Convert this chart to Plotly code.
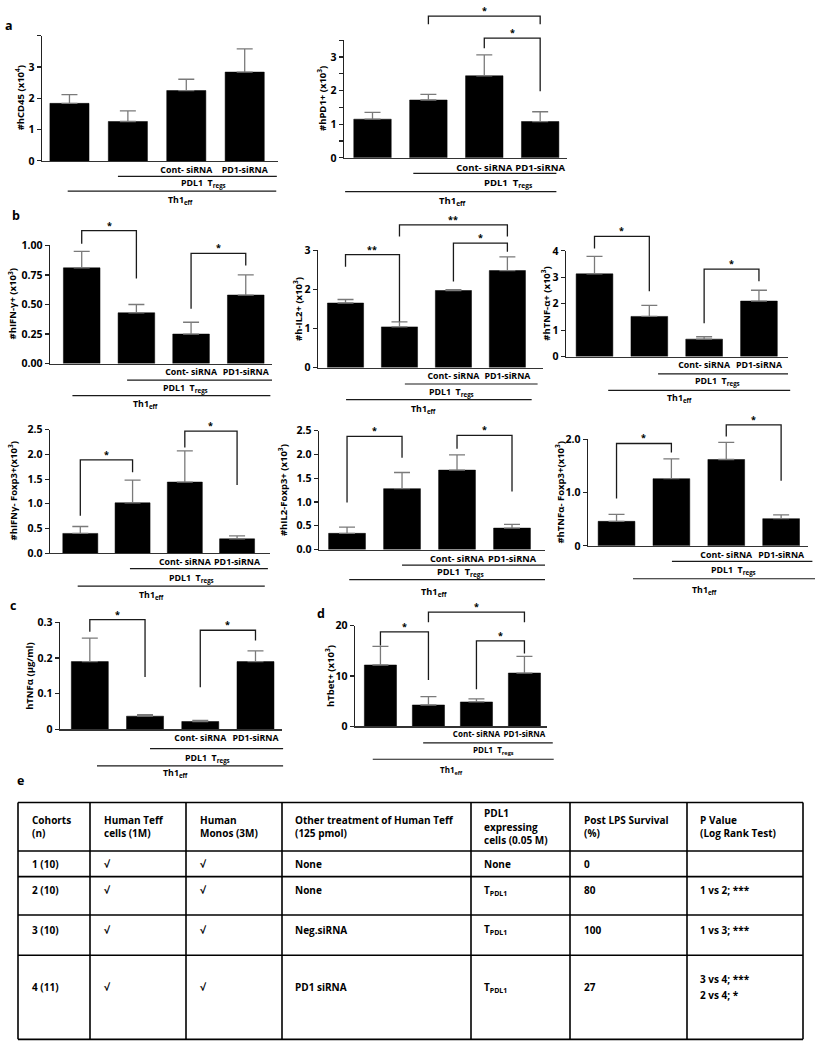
import plotly.graph_objects as go

W, H = 815, 1050
HN = 1133.0  # vertical extent of the layout measurements below
FONT = "Open Sans"

# ---------------- data ----------------
cats = ["Th1eff", "Th1eff + PDL1 Tregs", "Th1eff + PDL1 Tregs Cont-siRNA", "Th1eff + PDL1 Tregs PD1-siRNA"]
bar_labels = ["Cont- siRNA", "PD1-siRNA"]   # shown under the last two bars

hcd45 = [1.84, 1.26, 2.25, 2.84]
hcd45_err = [0.28, 0.34, 0.36, 0.74]
hpd1 = [1.15, 1.72, 2.44, 1.08]
hpd1_err = [0.20, 0.17, 0.62, 0.29]
hifng = [0.81, 0.43, 0.25, 0.58]
hifng_err = [0.14, 0.07, 0.10, 0.17]
hil2 = [1.65, 1.04, 1.97, 2.48]
hil2_err = [0.09, 0.13, 0.02, 0.35]
htnfa = [3.13, 1.52, 0.66, 2.10]
htnfa_err = [0.66, 0.42, 0.09, 0.41]
hifng_foxp3 = [0.40, 1.02, 1.44, 0.29]
hifng_foxp3_err = [0.14, 0.46, 0.63, 0.06]
hil2_foxp3 = [0.34, 1.28, 1.67, 0.45]
hil2_foxp3_err = [0.13, 0.34, 0.32, 0.08]
htnfa_foxp3 = [0.46, 1.26, 1.62, 0.51]
htnfa_foxp3_err = [0.13, 0.37, 0.32, 0.07]
htnfa_conc = [0.19, 0.037, 0.022, 0.19]
htnfa_conc_err = [0.066, 0.004, 0.003, 0.03]
htbet = [12.2, 4.25, 4.85, 10.6]
htbet_err = [3.7, 1.65, 0.6, 3.3]

# table e
tbl_header = [["Cohorts", "(n)"], ["Human Teff", "cells (1M)"], ["Human", "Monos (3M)"],
              ["Other treatment of Human Teff", "(125 pmol)"], ["PDL1", "expressing", "cells (0.05 M)"],
              ["Post LPS Survival", "(%)"], ["P Value", "(Log Rank Test)"]]
cohorts = ["1 (10)", "2 (10)", "3 (10)", "4 (11)"]
teff_cells = ["√", "√", "√", "√"]
monos = ["√", "√", "√", "√"]
other_treatment = ["None", "None", "Neg.siRNA", "PD1 siRNA"]
pdl1_cells = ["None", "T<sub>PDL1</sub>", "T<sub>PDL1</sub>", "T<sub>PDL1</sub>"]
survival = ["0", "80", "100", "27"]
p_values = [[], ["1 vs 2; ***"], ["1 vs 3; ***"], ["3 vs 4; ***", "2 vs 4; *"]]

# ---------------- panel geometry (pixels, vertical in HN units) ----------------
panels = [
    dict(y=hcd45, e=hcd45_err, xl=42, xr=278, y0=168.3, yt=31.5, ymax=4, xrange=[-0.47, 3.57],
         tv=[0, 1, 2, 3], tt=["0", "1", "2", "3"], mv=[4], title="#hCD45 (x10<sup>4</sup>)", tx=20, lf=8.8,
         br=[], l1=(0.83, 3.55, 17), l2=(-0.03, 3.54, 33), pdl=(2.29, 25), th1=(1.91, 43)),
    dict(y=hpd1, e=hpd1_err, xl=344, xr=567, y0=165, yt=36.2, ymax=3.5, xrange=[-0.51, 3.48],
         tv=[0, 1, 2, 3], tt=["0", "1", "2", "3"], mv=[0.5, 1.5, 2.5, 3.5],
         title="#hPD1+ (x10<sup>3</sup>)", tx=322, lf=9.5,
         br=[(1, 3, 4.21, 3.97, 3.97, "*"), (2, 3, 3.56, 3.26, 1.98, "*")],
         l1=(0.73, 3.29, 17), l2=(-0.49, 3.29, 37), pdl=(2.43, 27), th1=(1.44, 47)),
    dict(y=hifng, e=hifng_err, xl=50, xr=272, y0=390, yt=260.7, ymax=1.0, xrange=[-0.58, 3.48],
         tv=[0, 0.25, 0.5, 0.75, 1.0], tt=["0.00", "0.25", "0.50", "0.75", "1.00"], mv=[],
         title="#hIFN-γ+ (x10<sup>3</sup>)", tx=13, lf=8.8,
         br=[(0, 1, 1.124, 1.013, 0.719, "*"), (2, 3, 0.933, 0.464, 0.830, "*")],
         l1=(0.83, 3.48, 18), l2=(-0.17, 3.45, 35), pdl=(1.90, 27), th1=(1.18, 45)),
    dict(y=hil2, e=hil2_err, xl=318, xr=543, y0=394.3, yt=266, ymax=3, xrange=[-0.51, 3.66],
         tv=[0, 1, 2, 3], tt=["0", "1", "2", "3"], mv=[], title="#h-IL2+ (x10<sup>3</sup>)", tx=298, lf=8.8,
         br=[(0, 1, 2.89, 2.58, 1.175, "**"), (2, 3, 3.18, 2.20, 2.96, "*"), (1, 3, 3.65, 3.35, 3.35, "**")],
         l1=(1.10, 3.56, 18), l2=(0.01, 3.45, 35), pdl=(1.97, 27), th1=(1.45, 46)),
    dict(y=htnfa, e=htnfa_err, xl=566, xr=788, y0=382.3, yt=266.7, ymax=4, xrange=[-0.52, 3.53],
         tv=[0, 1, 2, 3, 4], tt=["0", "1", "2", "3", "4"], mv=[], title="#hTNF-α+ (x10<sup>3</sup>)", tx=546,
         lf=8.8,
         br=[(0, 1, 4.55, 4.09, 2.47, "*"), (2, 3, 3.31, 1.26, 2.85, "*")],
         l1=(1.16, 3.53, 19), l2=(0.25, 3.57, 37), pdl=(2.24, 27), th1=(1.56, 46)),
    dict(y=hifng_foxp3, e=hifng_foxp3_err, xl=50, xr=270, y0=597.3, yt=462.3, ymax=2.5, xrange=[-0.58, 3.63],
         tv=[0, 0.5, 1, 1.5, 2, 2.5], tt=["0.0", "0.5", "1.0", "1.5", "2.0", "2.5"], mv=[],
         title="#hIFNγ- Foxp3+(x10<sup>3</sup>)", tx=13, lf=8.8,
         br=[(0, 1, 1.89, 0.76, 1.64, "*"), (2, 3, 2.47, 2.14, 1.38, "*")],
         l1=(0.95, 3.59, 17), l2=(-0.05, 3.53, 36), pdl=(2.13, 28), th1=(1.37, 46)),
    dict(y=hil2_foxp3, e=hil2_foxp3_err, xl=319, xr=545, y0=593.3, yt=463.3, ymax=2.5, xrange=[-0.51, 3.6],
         tv=[0, 0.5, 1, 1.5, 2, 2.5], tt=["0.0", "0.5", "1.0", "1.5", "2.0", "2.5"], mv=[],
         title="#hIL2-Foxp3+ (x10<sup>3</sup>)", tx=283, lf=9.2,
         br=[(0, 1, 2.38, 0.99, 1.93, "*"), (2, 3, 2.40, 2.12, 1.22, "*")],
         l1=(1.0, 3.6, 17), l2=(0.04, 3.6, 33), pdl=(2.07, 25), th1=(1.58, 47)),
    dict(y=htnfa_foxp3, e=htnfa_foxp3_err, xl=588, xr=808, y0=589.3, yt=472.7, ymax=2.0, xrange=[-0.52, 3.49],
         tv=[0, 1, 2], tt=["0", "1.0", "2.0"], mv=[], title="#hTNFα- Foxp3+(x10<sup>3</sup>)", tx=560, lf=8.8,
         br=[(0, 1, 1.92, 0.89, 1.75, "*"), (2, 3, 2.27, 2.05, 1.22, "*")],
         l1=(1.01, 3.57, 17), l2=(0.30, 3.62, 36), pdl=(2.14, 27), th1=(1.61, 49)),
    dict(y=htnfa_conc, e=htnfa_conc_err, xl=60, xr=282, y0=790, yt=673, ymax=0.3, xrange=[-0.54, 3.48],
         tv=[0, 0.1, 0.2, 0.3], tt=["0", "0.1", "0.2", "0.3"], mv=[], title="hTNFα (µg/ml)", tx=30, lf=8.8,
         br=[(0, 1, 0.308, 0.274, 0.147, "*"), (2, 3, 0.278, 0.118, 0.249, "*")],
         l1=(1.09, 3.5, 21), l2=(0.13, 3.5, 40), pdl=(2.13, 32), th1=(1.56, 48)),
    dict(y=htbet, e=htbet_err, xl=355, xr=547, y0=786.7, yt=676.7, ymax=20, xrange=[-0.53, 3.47],
         tv=[0, 10, 20], tt=["0", "10", "20"], mv=[], title="hTbet+ (x10<sup>3</sup>)", tx=330, lf=8.0,
         br=[(0, 1, 18.8, 16.1, 9.2, "*"), (1, 3, 22.7, 20.7, 20.7, "*"), (2, 3, 17.0, 7.4, 14.5, "*")],
         l1=(0.89, 3.59, 18), l2=(-0.16, 3.61, 36), pdl=(2.36, 26), th1=(1.47, 48)),
]

panel_letters = [("a", 3, 20), ("b", 10, 228), ("c", 8, 655), ("d", 315, 663), ("e", 15, 846)]

# table geometry (pixels)
col_edges = [18, 90, 186, 282, 471, 570, 687, 803]
row_edges = [870, 923, 951, 993, 1037, 1129]
col_text_x = [30, 102, 198, 293, 482, 582, 698]
row_text_y = [937, 966, 1009, 1072]


def px_x(p, v):
    r0, r1 = p["xrange"]
    return (p["xl"] + (v - r0) / (r1 - r0) * (p["xr"] - p["xl"])) / W


def px_y(p, v):
    return 1 - (p["y0"] - v / p["ymax"] * (p["y0"] - p["yt"])) / HN


def off_y(p, dy):
    return 1 - (p["y0"] + dy) / HN


def PX(x):
    return x / W


def PY(y):
    return 1 - y / HN


fig = go.Figure()
shapes = []
ann = []
LINEC = "#1a1a1a"
tickfont = dict(family=FONT, size=10.5, color="black", weight=700)

for k, p in enumerate(panels, start=1):
    xa = "x" if k == 1 else f"x{k}"
    ya = "y" if k == 1 else f"y{k}"
    lblfont = dict(family=FONT, size=p["lf"], color="black", weight=700)
    fig.add_trace(go.Bar(
        x=cats, y=p["y"], width=0.67, xaxis=xa, yaxis=ya, showlegend=False, hoverinfo="skip",
        marker=dict(color="black", line=dict(color="black", width=0.5)),
        error_y=dict(type="data", symmetric=False, array=p["e"], arrayminus=[0] * 4,
                     color="#7a7a7a", thickness=1.3, width=8),
    ))
    fig.layout[f"xaxis{k}"] = dict(
        domain=[p["xl"] / W, p["xr"] / W], anchor=ya, type="category", range=p["xrange"],
        tickvals=cats[2:], ticktext=bar_labels, ticks="", tickangle=0, showline=True,
        linecolor="#333", linewidth=1.3, showgrid=False, zeroline=False, tickfont=lblfont, fixedrange=True)
    yax = dict(
        domain=[1 - p["y0"] / HN, 1 - p["yt"] / HN], anchor=xa, range=[0, p["ymax"]],
        tickvals=p["tv"], ticktext=p["tt"], ticks="outside", ticklen=4, tickwidth=1.2, tickcolor="#222",
        showline=True, linecolor="#222", linewidth=1.3, showgrid=False, zeroline=False,
        tickfont=tickfont, fixedrange=True)
    if p["mv"]:
        yax["minor"] = dict(tickvals=p["mv"], ticks="outside", ticklen=4, tickwidth=1.2, tickcolor="#222",
                            showgrid=False)
    fig.layout[f"yaxis{k}"] = yax
    # y title
    ann.append(dict(text=p["title"], x=PX(p["tx"]), y=(2 - (p["y0"] + p["yt"]) / HN) / 2,
                    xref="paper", yref="paper", textangle=-90, showarrow=False,
                    font=dict(family=FONT, size=9.5, color="black", weight=700),
                    xanchor="center", yanchor="middle"))
    # group lines
    for (a, b, dy) in (p["l1"], p["l2"]):
        shapes.append(dict(type="line", xref="paper", yref="paper", x0=px_x(p, a), x1=px_x(p, b),
                           y0=off_y(p, dy), y1=off_y(p, dy), line=dict(color=LINEC, width=1.2)))
    ann.append(dict(text="PDL1  T<sub>regs</sub>", x=px_x(p, p["pdl"][0]), y=off_y(p, p["pdl"][1]),
                    xref="paper", yref="paper", showarrow=False, font=lblfont,
                    xanchor="center", yanchor="middle"))
    ann.append(dict(text="Th1<sub>eff</sub>", x=px_x(p, p["th1"][0]), y=off_y(p, p["th1"][1]),
                    xref="paper", yref="paper", showarrow=False, font=lblfont,
                    xanchor="center", yanchor="middle"))
    # significance brackets
    for (i, j, top, yl, yr, lab) in p["br"]:
        x1, x2 = px_x(p, i), px_x(p, j)
        yt, y1, y2 = px_y(p, top), px_y(p, yl), px_y(p, yr)
        shapes.append(dict(type="path", xref="paper", yref="paper",
                           path=f"M{x1},{y1} L{x1},{yt} L{x2},{yt} L{x2},{y2}",
                           line=dict(color=LINEC, width=1.3)))
        ann.append(dict(text=lab, x=(x1 + x2) / 2, y=yt, xref="paper", yref="paper", showarrow=False,
                        font=dict(family=FONT, size=9, color="black", weight=700),
                        xanchor="center", yanchor="bottom", yshift=-3))

for (t, x, y) in panel_letters:
    ann.append(dict(text=t, x=PX(x), y=PY(y), xref="paper", yref="paper", showarrow=False,
                    font=dict(family=FONT, size=12.5, color="black", weight=700),
                    xanchor="left", yanchor="middle"))

# ---------------- table e ----------------
for yy in row_edges:
    shapes.append(dict(type="line", xref="paper", yref="paper", x0=PX(col_edges[0]), x1=PX(col_edges[-1]),
                       y0=PY(yy), y1=PY(yy), line=dict(color="black", width=1.6)))
for xx in col_edges:
    shapes.append(dict(type="line", xref="paper", yref="paper", x0=PX(xx), x1=PX(xx),
                       y0=PY(row_edges[0]), y1=PY(row_edges[-1]), line=dict(color="black", width=1.6)))

tfont = dict(family=FONT, size=10, color="black", weight=700)
hdr_mid = (row_edges[0] + row_edges[1]) / 2
for c, lines in enumerate(tbl_header):
    n = len(lines)
    for li, s in enumerate(lines):
        yy = hdr_mid + (li - (n - 1) / 2) * 14.5
        ann.append(dict(text=s, x=PX(col_text_x[c]), y=PY(yy), xref="paper", yref="paper",
                        showarrow=False, font=tfont, xanchor="left", yanchor="middle"))

table_cols = [cohorts, teff_cells, monos, other_treatment, pdl1_cells, survival]
for r in range(4):
    for c, col in enumerate(table_cols):
        ann.append(dict(text=col[r], x=PX(col_text_x[c]), y=PY(row_text_y[r]), xref="paper", yref="paper",
                        showarrow=False, font=tfont, xanchor="left", yanchor="middle"))
    pv = p_values[r]
    for li, s in enumerate(pv):
        yy = row_text_y[r] + (li - (len(pv) - 1) / 2) * 18
        ann.append(dict(text=s, x=PX(col_text_x[6]), y=PY(yy), xref="paper", yref="paper",
                        showarrow=False, font=tfont, xanchor="left", yanchor="middle"))

fig.update_layout(
    width=W, height=H, margin=dict(l=0, r=0, t=0, b=0),
    paper_bgcolor="white", plot_bgcolor="white",
    shapes=shapes, annotations=ann, bargap=0.3,
    font=dict(family=FONT, color="black"),
)

fig.write_html("out.html", config={"displayModeBar": False, "staticPlot": True},
               post_script="document.body.style.margin='0px';document.body.style.overflow='hidden';")
